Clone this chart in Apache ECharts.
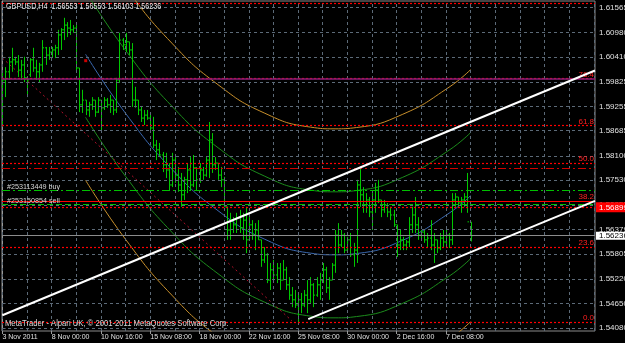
<!DOCTYPE html>
<html>
<head>
<meta charset="utf-8">
<title>GBPUSD,H4</title>
<script src="https://cdn.jsdelivr.net/npm/echarts@6.0.0/dist/echarts.min.js"></script>
<style>
html, body { margin: 0; padding: 0; background: #000; }
#chart { width: 625px; height: 343px; }
</style>
</head>
<body>
<div id="chart"></div>
<script>
const FONT = '"Liberation Sans", Arial, sans-serif';

// time axis: one step per H4 bar
const xLabels = ['3 Nov 2011', '8 Nov 00:00', '10 Nov 16:00', '15 Nov 08:00', '18 Nov 00:00',
  '22 Nov 16:00', '25 Nov 08:00', '30 Nov 00:00', '2 Dec 16:00', '7 Dec 08:00'];
const xLabelBars = [0, 16, 32, 48, 64, 80, 96, 112, 128, 144];
const xGridBars = [0, 8, 16, 24, 32, 40, 48, 56, 64, 72, 80, 88, 96, 104, 112, 120, 128, 136, 144, 152, 160, 168, 176, 184, 192];
const yTicks = [1.61565, 1.60980, 1.60410, 1.59825, 1.59255, 1.58685, 1.58100, 1.57530,
  1.56955, 1.56379, 1.55805, 1.55220, 1.54650, 1.54080];

// GBPUSD H4 bars
const opens = [1.5894,1.5987,1.6006,1.6029,1.6034,1.6029,1.6010,1.6022,1.5992,1.5999,
  1.6034,1.6015,1.6006,1.6022,1.6062,1.6045,1.6052,1.6057,1.6062,1.6092,
  1.6104,1.6115,1.6108,1.6104,1.6108,1.6015,1.5929,1.5940,1.5917,1.5929,
  1.5940,1.5912,1.5940,1.5922,1.5940,1.5929,1.5940,1.5917,1.5987,1.6080,
  1.6069,1.6076,1.6057,1.5940,1.5940,1.5917,1.5898,1.5905,1.5898,1.5875,
  1.5835,1.5824,1.5812,1.5789,1.5777,1.5742,1.5800,1.5765,1.5742,1.5719,
  1.5754,1.5777,1.5742,1.5782,1.5754,1.5777,1.5765,1.5800,1.5847,1.5789,
  1.5793,1.5765,1.5754,1.5691,1.5637,1.5660,1.5649,1.5665,1.5642,1.5660,
  1.5614,1.5649,1.5625,1.5637,1.5614,1.5567,1.5579,1.5520,1.5544,1.5532,
  1.5548,1.5520,1.5544,1.5509,1.5485,1.5474,1.5462,1.5474,1.5462,1.5485,
  1.5474,1.5509,1.5485,1.5509,1.5520,1.5544,1.5502,1.5520,1.5555,1.5625,
  1.5602,1.5625,1.5590,1.5614,1.5579,1.5590,1.5742,1.5719,1.5695,1.5707,
  1.5679,1.5707,1.5730,1.5707,1.5684,1.5695,1.5679,1.5672,1.5649,1.5602,
  1.5614,1.5602,1.5609,1.5649,1.5672,1.5649,1.5625,1.5632,1.5614,1.5618,
  1.5602,1.5614,1.5595,1.5618,1.5609,1.5625,1.5614,1.5707,1.5714,1.5700,
  1.5707,1.5714,1.56553];
const highs = [1.6006,1.6017,1.6041,1.6062,1.6041,1.6045,1.6034,1.6041,1.5994,1.6038,
  1.6062,1.6034,1.6027,1.6080,1.6064,1.6064,1.6064,1.6069,1.6104,1.6108,
  1.6132,1.6122,1.6127,1.6115,1.6115,1.6015,1.5964,1.5940,1.5936,1.5947,
  1.5940,1.5947,1.5940,1.5947,1.5945,1.5952,1.5940,1.5992,1.6097,1.6085,
  1.6097,1.6076,1.6073,1.5971,1.5940,1.5924,1.5917,1.5917,1.5910,1.5901,
  1.5847,1.5840,1.5819,1.5817,1.5793,1.5817,1.5807,1.5784,1.5770,1.5761,
  1.5793,1.5807,1.5812,1.5784,1.5793,1.5784,1.5807,1.5889,1.5863,1.5807,
  1.5793,1.5784,1.5761,1.5691,1.5677,1.5667,1.5677,1.5684,1.5677,1.5691,
  1.5667,1.5660,1.5653,1.5660,1.5614,1.5597,1.5583,1.5560,1.5567,1.5560,
  1.5560,1.5567,1.5551,1.5527,1.5504,1.5497,1.5490,1.5490,1.5497,1.5520,
  1.5527,1.5513,1.5527,1.5537,1.5560,1.5551,1.5527,1.5560,1.5637,1.5653,
  1.5637,1.5630,1.5621,1.5630,1.5607,1.5754,1.5782,1.5737,1.5723,1.5714,
  1.5723,1.5747,1.5754,1.5707,1.5707,1.5700,1.5691,1.5684,1.5649,1.5637,
  1.5621,1.5614,1.5667,1.5691,1.5714,1.5667,1.5637,1.5637,1.5630,1.5660,
  1.5630,1.5614,1.5630,1.5637,1.5637,1.5630,1.5723,1.5723,1.5714,1.5714,
  1.5723,1.5770,1.56553];
const lows = [1.5880,1.5947,1.5987,1.6006,1.6022,1.5994,1.5987,1.5982,1.5947,1.5994,
  1.6006,1.5987,1.5980,1.6006,1.6022,1.6034,1.6038,1.6038,1.6045,1.6057,
  1.6080,1.6087,1.6092,1.6097,1.6010,1.5912,1.5910,1.5905,1.5901,1.5917,
  1.5901,1.5910,1.5866,1.5917,1.5922,1.5910,1.5905,1.5910,1.5980,1.6057,
  1.6052,1.6045,1.5924,1.5922,1.5905,1.5889,1.5882,1.5894,1.5866,1.5828,
  1.5800,1.5807,1.5772,1.5758,1.5730,1.5737,1.5747,1.5726,1.5691,1.5707,
  1.5723,1.5730,1.5737,1.5730,1.5747,1.5754,1.5761,1.5758,1.5770,1.5777,
  1.5754,1.5737,1.5691,1.5614,1.5614,1.5630,1.5630,1.5630,1.5614,1.5583,
  1.5614,1.5614,1.5590,1.5614,1.5551,1.5560,1.5513,1.5497,1.5520,1.5513,
  1.5497,1.5520,1.5497,1.5474,1.5457,1.5455,1.5422,1.5443,1.5457,1.5443,
  1.5467,1.5457,1.5481,1.5474,1.5513,1.5490,1.5474,1.5520,1.5537,1.5583,
  1.5597,1.5583,1.5590,1.5574,1.5551,1.5560,1.5691,1.5677,1.5677,1.5667,
  1.5637,1.5677,1.5700,1.5667,1.5677,1.5667,1.5660,1.5644,1.5574,1.5590,
  1.5590,1.5590,1.5597,1.5630,1.5630,1.5614,1.5614,1.5607,1.5597,1.5590,
  1.5560,1.5583,1.5590,1.5597,1.5597,1.5595,1.5602,1.5691,1.5691,1.5677,
  1.5691,1.5677,1.56103];
const closes = [1.5987,1.6006,1.6029,1.6034,1.6029,1.6010,1.6022,1.5992,1.5987,1.6034,
  1.6015,1.6006,1.6022,1.6062,1.6045,1.6052,1.6057,1.6062,1.6092,1.6104,
  1.6115,1.6108,1.6104,1.6108,1.6015,1.5929,1.5940,1.5917,1.5929,1.5940,
  1.5912,1.5940,1.5922,1.5940,1.5929,1.5940,1.5917,1.5987,1.6080,1.6069,
  1.6076,1.6057,1.5940,1.5940,1.5917,1.5898,1.5905,1.5898,1.5875,1.5835,
  1.5824,1.5812,1.5789,1.5777,1.5742,1.5800,1.5765,1.5742,1.5719,1.5754,
  1.5777,1.5742,1.5782,1.5754,1.5777,1.5765,1.5800,1.5847,1.5789,1.5793,
  1.5765,1.5754,1.5691,1.5637,1.5660,1.5649,1.5665,1.5642,1.5660,1.5614,
  1.5649,1.5625,1.5637,1.5614,1.5567,1.5579,1.5520,1.5544,1.5532,1.5548,
  1.5520,1.5544,1.5509,1.5485,1.5474,1.5462,1.5474,1.5462,1.5485,1.5474,
  1.5509,1.5485,1.5509,1.5520,1.5544,1.5502,1.5520,1.5555,1.5625,1.5602,
  1.5625,1.5590,1.5614,1.5579,1.5590,1.5742,1.5719,1.5695,1.5707,1.5679,
  1.5707,1.5730,1.5707,1.5684,1.5695,1.5679,1.5672,1.5649,1.5602,1.5614,
  1.5602,1.5609,1.5649,1.5672,1.5649,1.5625,1.5632,1.5614,1.5618,1.5602,
  1.5614,1.5595,1.5618,1.5609,1.5625,1.5614,1.5707,1.5714,1.5700,1.5707,
  1.5714,1.5656,1.56236];

// regression channel (centre, +/- bands), read at bar positions
const regCentre = [[27,1.6047],[40,1.5909],[55,1.5779],[70,1.5682],[85,1.5616],[100,1.5583],[108,1.5579],[115,1.5582],[130,1.5613],[145,1.5676],[152,1.5717]];
const regUp1 = [[27,1.6194],[40,1.6056],[55,1.5926],[70,1.5829],[85,1.5763],[100,1.5730],[108,1.5726],[115,1.5729],[130,1.5760],[145,1.5823],[152,1.5864]];
const regDn1 = [[27,1.5900],[40,1.5762],[55,1.5632],[70,1.5535],[85,1.5469],[100,1.5436],[108,1.5432],[115,1.5435],[130,1.5466],[145,1.5529],[152,1.5570]];
const regUp2 = [[27,1.6341],[40,1.6203],[55,1.6073],[70,1.5976],[85,1.5910],[100,1.5877],[108,1.5873],[115,1.5876],[130,1.5907],[145,1.5970],[152,1.6011]];
const regDn2 = [[27,1.5753],[40,1.5615],[55,1.5485],[70,1.5388],[85,1.5322],[100,1.5289],[108,1.5285],[115,1.5288],[130,1.5319],[145,1.5382],[152,1.5423]];
const regStart = [[27.05, 1.6032]];

// trend lines
const channelTop = [[0, 1.5438], [192.4, 1.6009]];
const channelBottom = [[99.3, 1.5429], [192.4, 1.5705]];
const dottedTrend = [[0, 1.6038], [94, 1.5425]];

// fibonacci retracement
const fibLevels = ['0.0', '23.6', '38.2', '50.0', '61.8', '76.4', '100.0'];
const fibPrices = [1.5422, 1.5597, 1.5705, 1.5793, 1.5881, 1.5990, 1.6166];

// other horizontal levels
const purpleLevel = 1.5989;
const stopLevel = 1.5781;
const buyLevel = 1.5730;
const sellLevel = 1.5697;
const alertLevel = 1.56899;
const bidLevel = 1.56236;

const chart = echarts.init(document.getElementById('chart'));

function renderBar(params, api) {
  const i = api.value(0);
  const pO = api.coord([i, api.value(1)]);
  const pH = api.coord([i, api.value(2)]);
  const pL = api.coord([i, api.value(3)]);
  const pC = api.coord([i, api.value(4)]);
  const x = Math.round(pO[0]) + 0.5;
  const style = { stroke: '#00c800', lineWidth: 1 };
  return {
    type: 'group',
    children: [
      { type: 'line', shape: { x1: x, y1: pH[1], x2: x, y2: pL[1] }, style: style },
      { type: 'line', shape: { x1: x - 1.5, y1: pO[1], x2: x, y2: pO[1] }, style: style },
      { type: 'line', shape: { x1: x, y1: pC[1], x2: x + 1.5, y2: pC[1] }, style: style }
    ]
  };
}

const bars = highs.map((h, i) => [i, opens[i], h, lows[i], closes[i]]);

const gridMarks = [];
xGridBars.forEach(v => gridMarks.push({ xAxis: v }));
yTicks.forEach(v => gridMarks.push({ yAxis: v }));

const levelMarks = [];
fibPrices.forEach((p, k) => {
  levelMarks.push({
    yAxis: p,
    lineStyle: { color: '#ff0000', type: k === 2 ? 'solid' : [2, 2], width: 1.2 },
    label: {
      show: k !== 6, position: 'insideEndTop', distance: [1, 0],
      formatter: fibLevels[k], color: '#ff2020', fontSize: 8, fontFamily: FONT
    }
  });
});
levelMarks.push({ yAxis: purpleLevel, lineStyle: { color: '#8e1c78', type: 'solid', width: 1.5 }, label: { show: false } });
levelMarks.push({ yAxis: stopLevel, lineStyle: { color: '#d00000', type: [8, 3, 2, 3], width: 1.2 }, label: { show: false } });
levelMarks.push({
  yAxis: buyLevel, lineStyle: { color: '#00c000', type: [8, 3, 2, 3], width: 1.2 },
  label: { show: true, position: 'insideStartTop', distance: [5, 0], formatter: '#253113449 buy', color: '#d8d8d8', fontSize: 7.2, fontFamily: FONT }
});
levelMarks.push({
  yAxis: sellLevel, lineStyle: { color: '#00c000', type: [6, 3], width: 1.2 },
  label: { show: true, position: 'insideStartTop', distance: [5, 0], formatter: '#253150854 sell', color: '#d8d8d8', fontSize: 7.2, fontFamily: FONT }
});
levelMarks.push({
  yAxis: alertLevel, lineStyle: { color: '#ff0000', type: [2, 2], width: 1.2 },
  label: {
    show: true, position: 'end', distance: 1, formatter: alertLevel.toFixed(5),
    color: '#ffffff', backgroundColor: '#ff0000', padding: [1, 3, 1, 3], lineHeight: 8, fontSize: 8, fontFamily: FONT
  }
});
levelMarks.push({
  yAxis: bidLevel, lineStyle: { color: '#8c8c8c', type: 'solid', width: 1 },
  label: {
    show: true, position: 'end', distance: 1, formatter: bidLevel.toFixed(5),
    color: '#000000', backgroundColor: '#ffffff', padding: [0, 3, 0, 3], lineHeight: 8, fontSize: 8, fontFamily: FONT
  }
});

function curve(data, color) {
  return {
    type: 'line', data: data, smooth: true, showSymbol: false, symbol: 'none', z: 2,
    lineStyle: { color: color, width: 1 }, silent: true, animation: false
  };
}

const last = opens.length - 1;
const header = 'GBPUSD,H4  ' + [opens[last], highs[last], lows[last], closes[last]].map(v => v.toFixed(5)).join(' ');

const option = {
  backgroundColor: '#000000',
  animation: false,
  grid: {
    left: 2, right: 30, top: 1, bottom: 12, containLabel: false, outerBoundsMode: 'none',
    show: true, borderColor: '#8a8a8a', borderWidth: 1, backgroundColor: '#000'
  },
  xAxis: {
    type: 'value', min: -0.13, max: 192.4,
    axisLine: { show: false },
    splitLine: { show: false },
    axisTick: { show: true, customValues: xLabelBars, length: 3, lineStyle: { color: '#9a9a9a' } },
    axisLabel: {
      customValues: xLabelBars, formatter: v => xLabels[xLabelBars.indexOf(v)],
      align: 'left', color: '#e0e0e0', fontSize: 7, fontFamily: FONT, margin: 2.5
    }
  },
  yAxis: {
    type: 'value', position: 'right', min: 1.54013, max: 1.61712, scale: true,
    axisLine: { show: true, lineStyle: { color: '#9a9a9a' } },
    splitLine: { show: false },
    axisTick: { show: true, customValues: yTicks, length: 3, lineStyle: { color: '#9a9a9a' } },
    axisLabel: {
      customValues: yTicks, formatter: v => v.toFixed(5),
      color: '#e0e0e0', fontSize: 8, fontFamily: FONT, margin: 4
    }
  },
  series: [
    {
      type: 'line', data: [], z: 1, silent: true,
      markLine: {
        silent: true, symbol: ['none', 'none'], animation: false, precision: 6, label: { show: false },
        lineStyle: { color: '#5c6a78', type: [3, 3], width: 1 },
        emphasis: { disabled: true },
        data: gridMarks
      }
    },
    curve(regUp2, '#c8902c'),
    curve(regDn2, '#c8902c'),
    curve(regUp1, '#1c8c1c'),
    curve(regDn1, '#1c8c1c'),
    curve(regCentre, '#3a68b0'),
    {
      type: 'line', data: dottedTrend, showSymbol: false, symbol: 'none', z: 2, silent: true,
      lineStyle: { color: '#b0102a', width: 1, type: [2, 3] }
    },
    {
      type: 'custom', renderItem: renderBar, data: bars, z: 3, clip: true, silent: true,
      encode: { x: 0, y: [1, 2, 3, 4] }
    },
    {
      type: 'line', data: [], z: 4, silent: true,
      markLine: {
        silent: true, symbol: ['none', 'none'], animation: false, precision: 6,
        emphasis: { disabled: true },
        data: levelMarks
      }
    },
    {
      type: 'line', data: channelTop, showSymbol: false, symbol: 'none', z: 5, silent: true,
      lineStyle: { color: '#ffffff', width: 2 }
    },
    {
      type: 'line', data: channelBottom, showSymbol: false, symbol: 'none', z: 5, silent: true,
      lineStyle: { color: '#ffffff', width: 2 }
    },
    {
      type: 'scatter', data: regStart, symbol: 'rect', symbolSize: 3, z: 5, silent: true,
      itemStyle: { color: '#ff0000' }
    }
  ],
  graphic: [
    {
      type: 'text', x: 6, y: 7, scaleX: 0.845, z: 100, silent: true,
      style: { text: header, fill: '#e8e8e8', font: '8.5px ' + FONT, verticalAlign: 'middle' }
    },
    {
      type: 'text', x: 5, y: 324, scaleX: 0.9, z: 100, silent: true,
      style: { text: 'MetaTrader - Alpari UK, \u00a9 2001-2011 MetaQuotes Software Corp.', fill: '#d8d8d8', font: '8.5px ' + FONT, verticalAlign: 'middle' }
    }
  ]
};

chart.setOption(option);
</script>
</body>
</html>
